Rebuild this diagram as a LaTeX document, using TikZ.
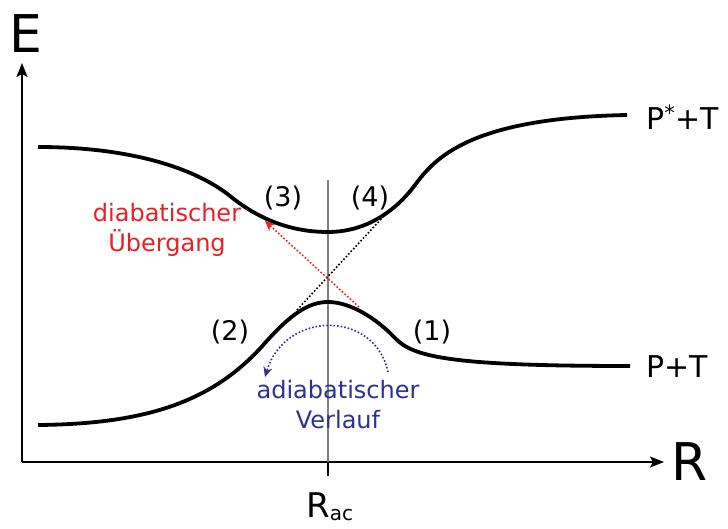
\documentclass[tikz,border=0pt]{standalone}
\usepackage{fontspec}
\setmainfont{DejaVu Sans}
\usetikzlibrary{arrows.meta}
\definecolor{dred}{RGB}{235,30,35}
\definecolor{dblue}{RGB}{46,49,146}
\begin{document}
\begin{tikzpicture}[x=1pt,y=-1pt,
  axis/.style={line width=1.8pt,-{Stealth[length=14pt,width=11pt,inset=3pt]}},
  curve/.style={line width=3.8pt},
  lab/.style={font=\fontsize{27}{30}\selectfont,inner sep=0pt},
  big/.style={font=\fontsize{52}{56}\selectfont,inner sep=0pt},
  mid/.style={font=\fontsize{30}{34}\selectfont,inner sep=0pt},
  note/.style={font=\fontsize{24}{30}\selectfont,inner sep=0pt,align=center}]
\useasboundingbox (0,0) rectangle (728,529);
% axes
\coordinate (O) at (22,462);
\coordinate (Ytip) at (22,63);
\coordinate (Xtip) at (664,462);
\draw[axis] (O) -- (Ytip);
\draw[axis] (O) -- (Xtip);
\node[big,anchor=base] (E) at (26,53) {E};
\node[big,anchor=base] (R) at (690,480) {R};
% vertical line at Rac
\coordinate (Vtop) at (328,180);
\coordinate (Vbot) at (328,462);
\coordinate (Tick) at (328,476);
\draw[gray,line width=1.3pt] (Vtop) -- (Vbot);
\draw[line width=1.8pt] (Vbot) -- (Tick);
\node[anchor=base,font=\fontsize{34}{36}\selectfont,inner sep=0pt] (Rac) at (330,517) {R\textsubscript{\fontsize{20}{22}\selectfont ac}};
% upper curve
\draw[curve] (38,147) .. controls (130,147) and (195,168) .. (230,196)
  .. controls (262,222) and (295,232) .. (328,232)
  .. controls (365,232) and (395,212) .. (415,185)
  .. controls (435,158) and (470,118) .. (627,115);
% lower curve
\draw[curve] (38,425) .. controls (150,424) and (215,400) .. (265,343)
  .. controls (290,315) and (308,302) .. (328,302)
  .. controls (350,302) and (376,318) .. (395,338)
  .. controls (413,357) and (450,366) .. (630,366);
% labels
\node[mid,anchor=base west] (Pst) at (646,130) {P\textsuperscript{*}+T};
\node[mid,anchor=base west] (PT) at (646,377) {P+T};
\node[lab] (l3) at (283,198) {(3)};
\node[lab] (l4) at (370,198) {(4)};
\node[lab] (l2) at (230,332) {(2)};
\node[lab] (l1) at (432,332) {(1)};
% dotted lines
\coordinate (b1) at (297,310);
\coordinate (b2) at (383,217);
\draw[line width=1.6pt,dotted] (b1) -- (b2);
\coordinate (r1) at (359,307);
\coordinate (r2) at (265,221);
\draw[dred,line width=1.6pt,dotted,-{Stealth[length=10pt,width=9pt,fill=dred]}] (r1) -- (r2);
\coordinate (a1) at (388,372);
\coordinate (a2) at (265,377);
\draw[dblue,line width=1.6pt,dotted,-{Stealth[length=10pt,width=9pt,fill=dblue]}] (a1) .. controls (375,310) and (285,310) .. (a2);
% notes
\node[note,text=dred] (dia) at (167,230) {diabatischer\\Übergang};
\node[note,text=dblue] (adia) at (338,405) {adiabatischer\\Verlauf};
\end{tikzpicture}
\end{document}
